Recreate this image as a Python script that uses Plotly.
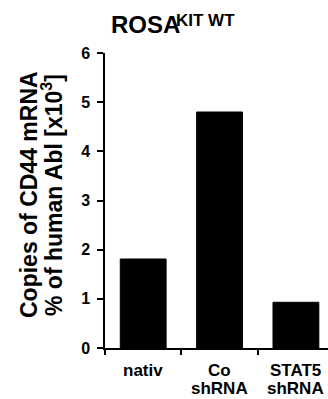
import plotly.graph_objects as go

categories = ["nativ", "Co shRNA", "STAT5 shRNA"]
label_line1 = ["nativ", "Co", "STAT5"]
label_line2 = ["", "shRNA", "shRNA"]
values = [1.81, 4.80, 0.93]
y_ticks = [0, 1, 2, 3, 4, 5, 6]

W, H = 328, 399
ML, MR, MT, MB = 105, 0, 53, 51
PW, PH = W - ML - MR, H - MT - MB
FONT = "Liberation Sans, Arial, sans-serif"


def px_x(px):
    return (px - ML) / PW


def px_y(py):
    return (H - MB - py) / PH


fig = go.Figure(
    go.Bar(
        x=categories,
        y=values,
        marker=dict(color="black", line=dict(color="black", width=1)),
        width=0.6,
    )
)

fig.update_layout(
    width=W,
    height=H,
    margin=dict(l=ML, r=MR, t=MT, b=MB),
    paper_bgcolor="white",
    plot_bgcolor="white",
    showlegend=False,
    font=dict(family=FONT, color="black"),
)

fig.update_xaxes(
    range=[-0.5, 2.42],
    showline=True,
    linecolor="black",
    linewidth=1.5,
    ticks="outside",
    ticklen=5,
    tickwidth=1.5,
    tickcolor="black",
    tickson="boundaries",
    showticklabels=False,
    showgrid=False,
    zeroline=False,
)

fig.update_yaxes(
    range=[0, 6],
    tickvals=y_ticks,
    ticktext=[f"<b>{t}</b>" for t in y_ticks],
    showline=True,
    linecolor="black",
    linewidth=1.5,
    ticks="outside",
    ticklen=6,
    tickwidth=1.5,
    tickcolor="black",
    ticklabelstandoff=4,
    tickfont=dict(size=16, family=FONT, color="black"),
    showgrid=False,
    zeroline=False,
)

# Category labels, two lines each, tightly spaced
for cat, l1, l2 in zip(categories, label_line1, label_line2):
    for text, py in ((l1, 370), (l2, 388)):
        if not text:
            continue
        fig.add_annotation(
            text=f"<b>{text}</b>",
            x=cat,
            xref="x",
            y=px_y(py),
            yref="paper",
            xanchor="center",
            yanchor="middle",
            showarrow=False,
            font=dict(size=17, family=FONT, color="black"),
        )

# Title: ROSA with superscript KIT WT
fig.add_annotation(
    text="<b>ROSA</b>",
    x=px_x(109),
    xref="paper",
    y=px_y(24.5),
    yref="paper",
    xanchor="left",
    yanchor="middle",
    showarrow=False,
    font=dict(size=24, family=FONT, color="black"),
)
fig.add_annotation(
    text="<b>KIT WT</b>",
    x=px_x(174),
    xref="paper",
    y=px_y(20.5),
    yref="paper",
    xanchor="left",
    yanchor="middle",
    showarrow=False,
    font=dict(size=17, family=FONT, color="black"),
)

# Rotated y-axis caption, two lines
for text, cx in (
    ("<b>Copies of CD44 mRNA</b>", 29),
    ("<b>% of human Abl [x10<sup>3</sup>]</b>", 52),
):
    fig.add_annotation(
        text=text,
        x=px_x(cx),
        xref="paper",
        y=px_y(195),
        yref="paper",
        xanchor="center",
        yanchor="middle",
        textangle=-90,
        showarrow=False,
        font=dict(size=23, family=FONT, color="black"),
    )

fig.write_html("out.html")
